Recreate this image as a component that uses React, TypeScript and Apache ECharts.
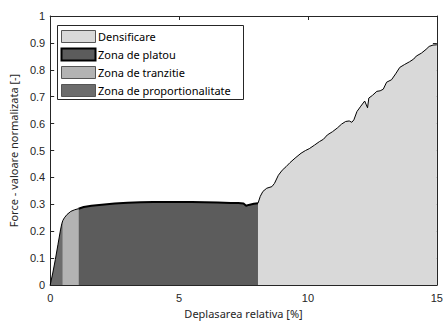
import React, { useEffect, useRef } from "react";
import * as echarts from "echarts";

const legendNames = ["Densificare", "Zona de platou", "Zona de tranzitie", "Zona de proportionalitate"];
const legendColors = ["#d9d9d9", "#5c5c5c", "#b3b3b3", "#6c6c6c"];

const proportionalitate: [number, number][] = [
  [0, 0], [0.1, 0.045], [0.2, 0.095], [0.3, 0.15], [0.4, 0.205], [0.45, 0.228], [0.49, 0.24],
];
const tranzitie: [number, number][] = [
  [0.49, 0.24], [0.55, 0.25], [0.65, 0.262], [0.8, 0.274], [0.95, 0.28], [1.1, 0.284],
];
const platou: [number, number][] = [
  [1.1, 0.284], [1.3, 0.29], [1.6, 0.295], [2, 0.299], [2.5, 0.303], [3, 0.306], [3.5, 0.308],
  [4, 0.309], [4.5, 0.309], [5, 0.309], [5.5, 0.309], [6, 0.308], [6.5, 0.307], [7, 0.305],
  [7.3, 0.305], [7.5, 0.303], [7.6, 0.295], [7.7, 0.298], [7.9, 0.302], [8.06, 0.304],
];
const densificare: [number, number][] = [
  [8.06, 0.304], [8.15, 0.33], [8.25, 0.348], [8.4, 0.36], [8.6, 0.366], [8.7, 0.378],
  [8.85, 0.408], [9.0, 0.427], [9.15, 0.44], [9.3, 0.455], [9.5, 0.472],
  [9.73, 0.49], [9.9, 0.5], [10.05, 0.507], [10.25, 0.52], [10.44, 0.533], [10.6, 0.542],
  [10.75, 0.558], [10.95, 0.57], [11.14, 0.584], [11.3, 0.598], [11.46, 0.608], [11.6, 0.61],
  [11.7, 0.605], [11.78, 0.614], [11.9, 0.645], [12.05, 0.665], [12.2, 0.684], [12.31, 0.659],
  [12.36, 0.695], [12.5, 0.705], [12.67, 0.72], [12.8, 0.722], [12.92, 0.728], [13.05, 0.754],
  [13.24, 0.763], [13.4, 0.785], [13.56, 0.809], [13.75, 0.82], [13.94, 0.83], [14.1, 0.84],
  [14.2, 0.851], [14.4, 0.862], [14.58, 0.876], [14.7, 0.887], [14.85, 0.892], [15, 0.893],
];

const xTitle = "Deplasarea relativa [%]";
const yTitle = "Force - valoare normalizata [-]";

export default function App() {
  const ref = useRef<HTMLDivElement>(null);
  useEffect(() => {
    if (!ref.current) return;
    const chart = echarts.init(ref.current, undefined, { renderer: "svg" });
    const axisCommon = {
      axisLine: { show: true, onZero: false, lineStyle: { color: "#262626", width: 1 } },
      axisTick: { show: true, inside: true, length: 4, lineStyle: { color: "#262626" } },
      splitLine: { show: false },
    };
    const tickFont = { color: "#262626", fontSize: 11, fontFamily: "Liberation Sans" };
    const mk = (name: string, data: [number, number][], fill: string, lw: number, z: number) => ({
      name,
      type: "line",
      data,
      showSymbol: false,
      symbol: "none",
      z,
      lineStyle: { color: "#000", width: lw },
      areaStyle: { color: fill, opacity: 1, origin: "start" },
      xAxisIndex: 0,
      yAxisIndex: 0,
    });
    const legendGraphics: any[] = [
      {
        type: "rect",
        shape: { x: 57.5, y: 25.5, width: 186, height: 74 },
        style: { fill: "#fff", stroke: "#262626", lineWidth: 1 },
        z: 10,
      },
    ];
    legendNames.forEach((n, i) => {
      const y = 30 + i * 18;
      legendGraphics.push({
        type: "rect",
        shape: { x: 61.5, y: y + 0.5, width: 34, height: 12 },
        style: {
          fill: legendColors[i],
          stroke: i === 1 ? "#000" : "#555",
          lineWidth: i === 1 ? 2 : 1,
        },
        z: 11,
      });
      legendGraphics.push({
        type: "text",
        x: 98,
        y: y + 6.5,
        style: {
          text: n,
          fill: "#000",
          fontSize: 11,
          fontFamily: "Noto Sans",
          verticalAlign: "middle",
          align: "left",
        },
        z: 11,
      });
    });
    chart.setOption({
      animation: false,
      backgroundColor: "#fff",
      grid: { left: 49, right: 5, top: 16, bottom: 34, containLabel: false },
      xAxis: [
        {
          type: "value",
          min: 0,
          max: 15,
          interval: 5,
          position: "bottom",
          ...axisCommon,
          axisLabel: { ...tickFont, margin: 7 },
          name: xTitle,
          nameLocation: "middle",
          nameGap: 22,
          nameTextStyle: { fontSize: 11, fontFamily: "Noto Sans", color: "#262626" },
        },
        {
          type: "value",
          min: 0,
          max: 15,
          interval: 5,
          position: "top",
          ...axisCommon,
          axisLabel: { show: false },
        },
      ],
      yAxis: [
        {
          type: "value",
          min: 0,
          max: 1,
          interval: 0.1,
          position: "left",
          ...axisCommon,
          axisLabel: { ...tickFont, margin: 5, formatter: (v: number) => String(Math.round(v * 10) / 10) },
          name: yTitle,
          nameLocation: "middle",
          nameGap: 27,
          nameTextStyle: { fontSize: 11, fontFamily: "Noto Sans", color: "#262626" },
        },
        {
          type: "value",
          min: 0,
          max: 1,
          interval: 0.1,
          position: "right",
          ...axisCommon,
          axisLabel: { show: false },
        },
      ],
      series: [
        mk(legendNames[3], proportionalitate, legendColors[3], 1, 2),
        mk(legendNames[2], tranzitie, legendColors[2], 1, 2),
        mk(legendNames[0], densificare, legendColors[0], 1, 2),
        mk(legendNames[1], platou, legendColors[1], 2, 3),
      ],
      graphic: legendGraphics,
    });
    return () => chart.dispose();
  }, []);
  return <div ref={ref} style={{ width: 446, height: 324, position: "absolute", left: 0, top: 0 }} />;
}
